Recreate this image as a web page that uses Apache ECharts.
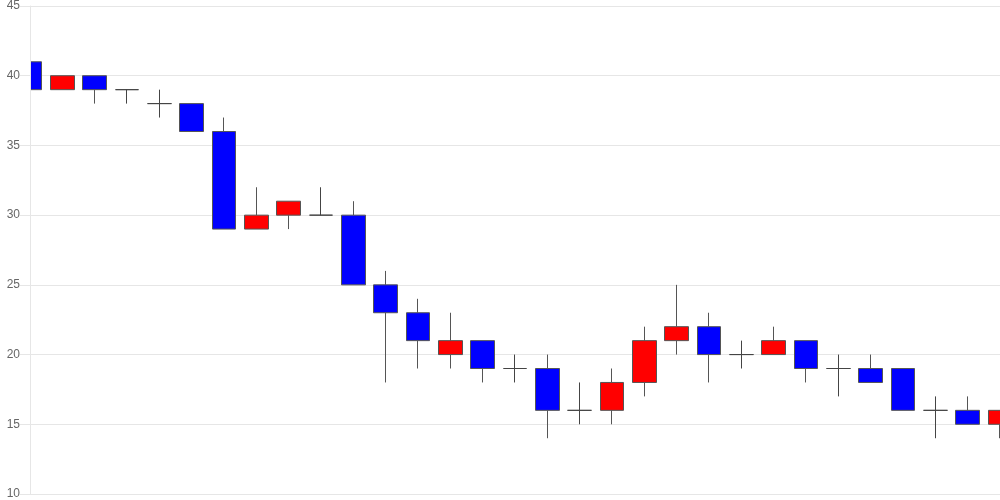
<!DOCTYPE html>
<html>
<head>
<meta charset="utf-8">
<script src="https://cdn.jsdelivr.net/npm/echarts@6/dist/echarts.min.js"></script>
<style>html,body{margin:0;padding:0;background:#fff}#c{width:1000px;height:500px}</style>
</head>
<body>
<div id="c"></div>
<script>
var categories = ['1','2','3','4','5','6','7','8','9','10','11','12','13','14','15','16','17','18','19','20','21','22','23','24','25','26','27','28','29','30','31'];
var opens  = [41,39,40,39,38,38,36,29,30,30,30,25,23,20,21,19,19,16,16,18,21,22,20,20,21,19,19,19,16,16,15];
var closes = [39,40,39,39,38,36,29,30,31,30,25,23,21,21,19,19,16,16,18,21,22,20,20,21,19,19,18,16,16,15,16];
var lows   = [39,39,38,38,37,36,29,29,29,30,25,18,19,19,18,18,14,15,15,17,20,18,19,20,18,17,18,16,14,15,14];
var highs  = [41,40,40,39,39,38,37,32,31,32,31,26,24,23,21,20,20,18,19,22,25,23,21,22,21,20,20,19,17,17,16];
var yTicks = {min: 10, max: 45, interval: 5};

var data = categories.map(function (c, i) {
  return [opens[i], closes[i], lows[i], highs[i]];
});

var gridLeft = 30;
var chart = echarts.init(document.getElementById('c'), null, {renderer: 'canvas'});
chart.setOption({
  animation: false,
  grid: {left: gridLeft, right: 0, top: 6, bottom: 6, containLabel: false},
  graphic: [{
    type: 'rect',
    z: 3,
    silent: true,
    shape: {x: 0, y: 0, width: gridLeft, height: 500},
    style: {fill: '#fff'}
  }],
  xAxis: {
    type: 'category',
    data: categories,
    boundaryGap: false,
    axisLine: {show: false},
    axisTick: {show: false},
    axisLabel: {show: false},
    splitLine: {show: false}
  },
  yAxis: [{
    type: 'value',
    min: yTicks.min,
    max: yTicks.max,
    interval: yTicks.interval,
    axisLine: {show: false},
    axisTick: {show: false},
    axisLabel: {show: false},
    splitLine: {show: true, lineStyle: {color: '#e6e6e6'}}
  }, {
    type: 'value',
    position: 'left',
    z: 5,
    min: yTicks.min,
    max: yTicks.max,
    interval: yTicks.interval,
    axisLine: {show: true, lineStyle: {color: '#e6e6e6'}},
    axisTick: {show: true, length: 10, lineStyle: {color: '#e6e6e6'}},
    axisLabel: {color: '#666', fontSize: 12, fontFamily: 'Liberation Sans, Arial, sans-serif', margin: 10},
    splitLine: {show: false}
  }],
  series: [{
    type: 'candlestick',
    yAxisIndex: 0,
    data: data,
    barWidth: 24,
    clip: true,
    itemStyle: {
      color: '#ff0000',
      color0: '#0000ff',
      borderColor: '#555',
      borderColor0: '#555',
      borderColorDoji: '#444',
      borderWidth: 1
    }
  }]
});
</script>
</body>
</html>
